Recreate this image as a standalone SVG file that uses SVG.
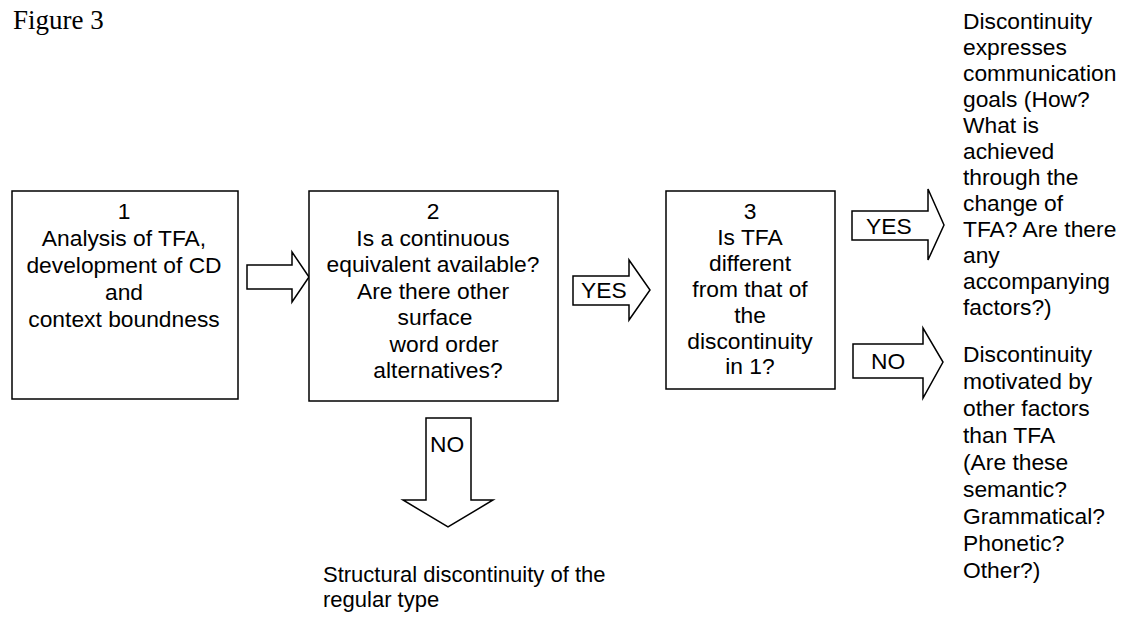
<svg xmlns="http://www.w3.org/2000/svg" width="1129" height="620" viewBox="0 0 1129 620">
<style>
.box{fill:#fff;stroke:#000;stroke-width:1.5}
.arr{fill:#fff;stroke:#000;stroke-width:1.5;stroke-linejoin:miter}
.t{font-family:"Liberation Sans",Arial,sans-serif;font-size:22.8px;fill:#000}
.s{font-size:22px}
.c{text-anchor:middle}
.fig{font-family:"Liberation Serif","Times New Roman",serif;font-size:27px;fill:#000}
</style>
<rect width="1129" height="620" fill="#fff"/>
<text class="fig" x="13" y="29">Figure 3</text>

<g id="connectors">
  <path class="arr" d="M247,265 H292 V252 L309,277 L292,302 V289 H247 Z"/>
  <path class="arr" d="M573,276 H629 V260 L650,290 L629,320 V305 H573 Z"/>
  <path class="arr" d="M852,211 H928 V189 L944,225 L928,260 V240 H852 Z"/>
  <text class="t" x="866" y="234">YES</text>
  <path class="arr" d="M853,344 H923 V328 L943,362 L923,398 V378 H853 Z"/>
  <text class="t" x="871" y="369">NO</text>
  <path class="arr" d="M426,418 H471 V500 H493 L448,527 L403,500 H426 Z"/>
  <text class="t" x="430" y="452">NO</text>
  <text class="t" x="581" y="298">YES</text>
</g>

<g id="node1">
  <rect class="box" x="12" y="191" width="226" height="208"/>
  <text class="t c" x="124" y="219">1</text>
  <text class="t c" x="124" y="246">Analysis of TFA,</text>
  <text class="t c" x="124" y="273">development of CD</text>
  <text class="t c" x="124" y="300">and</text>
  <text class="t c" x="124" y="327">context boundness</text>
</g>

<g id="node2">
  <rect class="box" x="309" y="191" width="249" height="210"/>
  <text class="t c" x="433" y="219">2</text>
  <text class="t c" x="433" y="246">Is a continuous</text>
  <text class="t c" x="433" y="272">equivalent available?</text>
  <text class="t c" x="433" y="299">Are there other</text>
  <text class="t c" x="435" y="325">surface</text>
  <text class="t c" x="444" y="352">word order</text>
  <text class="t c" x="438" y="378">alternatives?</text>
</g>

<g id="node3">
  <rect class="box" x="666" y="191" width="169" height="198"/>
  <text class="t c" x="750" y="219">3</text>
  <text class="t c" x="750" y="245">Is TFA</text>
  <text class="t c" x="750" y="271">different</text>
  <text class="t c" x="750" y="297">from that of</text>
  <text class="t c" x="750" y="323">the</text>
  <text class="t c" x="750" y="349">discontinuity</text>
  <text class="t c" x="750" y="374">in 1?</text>
</g>

<g id="node4">
  <text class="t" x="963" y="29">Discontinuity</text>
  <text class="t" x="963" y="55">expresses</text>
  <text class="t" x="963" y="81">communication</text>
  <text class="t" x="963" y="107">goals (How?</text>
  <text class="t" x="963" y="133">What is</text>
  <text class="t" x="963" y="159">achieved</text>
  <text class="t" x="963" y="185">through the</text>
  <text class="t" x="963" y="211">change of</text>
  <text class="t" x="963" y="237">TFA? Are there</text>
  <text class="t" x="963" y="263">any</text>
  <text class="t" x="963" y="289">accompanying</text>
  <text class="t" x="963" y="315">factors?)</text>
</g>

<g id="node5">
  <text class="t" x="963" y="362">Discontinuity</text>
  <text class="t" x="963" y="389">motivated by</text>
  <text class="t" x="963" y="416">other factors</text>
  <text class="t" x="963" y="443">than TFA</text>
  <text class="t" x="963" y="470">(Are these</text>
  <text class="t" x="963" y="497">semantic?</text>
  <text class="t" x="963" y="524">Grammatical?</text>
  <text class="t" x="963" y="551">Phonetic?</text>
  <text class="t" x="963" y="578">Other?)</text>
</g>

<g id="node6">
  <text class="t s" x="323" y="582">Structural discontinuity of the</text>
  <text class="t s" x="323" y="607">regular type</text>
</g>
</svg>
